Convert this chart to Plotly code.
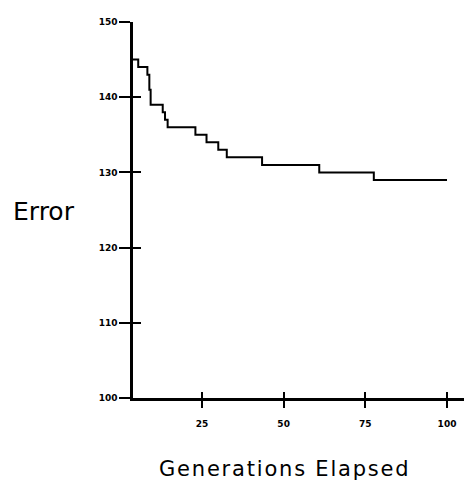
import plotly.graph_objects as go

# Data (step curve: level starts at given generation)
generations = [3.9, 5.5, 8.3, 8.9, 9.3, 13.0, 13.7, 14.5, 23.0, 26.4, 30.0, 32.6, 43.4, 60.9, 77.6, 100]
error = [145, 144, 143, 141, 139, 138, 137, 136, 135, 134, 133, 132, 131, 130, 129, 129]

x_ticks = [25, 50, 75, 100]
x_tick_labels = ["25", "50", "75", "100"]
y_ticks = [100, 110, 120, 130, 140, 150]
y_tick_labels = ["100", "110", "120", "130", "140", "150"]

x_range = [3.9, 105.2]
y_range = [100, 150]

fig = go.Figure()
fig.add_trace(go.Scatter(
    x=generations, y=error, mode="lines", line_shape="hv",
    line=dict(color="black", width=2), showlegend=False, hoverinfo="skip"))
# invisible trace to anchor overlay axes (inside tick halves)
fig.add_trace(go.Scatter(
    x=[generations[0]], y=[error[0]], mode="markers", marker=dict(opacity=0),
    xaxis="x2", yaxis="y2", showlegend=False, hoverinfo="skip"))

tickfont = dict(family="DejaVu Sans", size=9, color="black", weight="bold")

fig.update_layout(
    width=469, height=485,
    margin=dict(l=133, r=5, t=22, b=87),
    paper_bgcolor="white", plot_bgcolor="white",
    xaxis=dict(range=x_range, tickvals=x_ticks, ticktext=x_tick_labels,
               ticks="outside", ticklen=7, tickwidth=2, tickcolor="black",
               showline=True, linecolor="black", linewidth=2.5,
               showgrid=False, zeroline=False, tickfont=tickfont,
               ticklabelstandoff=8),
    yaxis=dict(range=y_range, tickvals=y_ticks, ticktext=y_tick_labels,
               ticks="outside", ticklen=11, tickwidth=2, tickcolor="black",
               showline=True, linecolor="black", linewidth=2.5,
               showgrid=False, zeroline=False, tickfont=tickfont,
               ticklabelstandoff=0),
    xaxis2=dict(range=x_range, overlaying="x", tickvals=x_ticks,
                ticks="inside", ticklen=6, tickwidth=2, tickcolor="black",
                showticklabels=False, showline=False, showgrid=False,
                zeroline=False, side="bottom", anchor="y2"),
    yaxis2=dict(range=y_range, overlaying="y", tickvals=y_ticks,
                ticks="inside", ticklen=8, tickwidth=2, tickcolor="black",
                showticklabels=False, showline=False, showgrid=False,
                zeroline=False, side="left", anchor="x2"),
    annotations=[
        dict(text="Error", xref="paper", yref="paper", x=-0.3686, y=0.4947,
             xanchor="left", yanchor="middle", showarrow=False,
             font=dict(family="DejaVu Sans", size=25, color="black")),
        dict(text='<span style="letter-spacing:1.8px">Generations Elapsed</span>',
             xref="paper", yref="paper", x=0.459, y=-0.189,
             xanchor="center", yanchor="middle", showarrow=False,
             font=dict(family="DejaVu Sans", size=21, color="black")),
    ],
)

fig.write_html("out.html")
